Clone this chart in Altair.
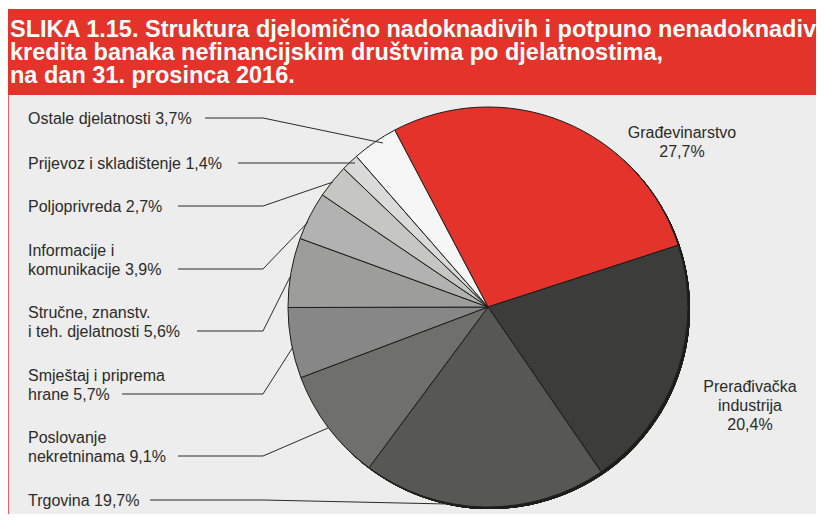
import math
import altair as alt
import pandas as pd

# ---------------- data ----------------
categories = [
    "Građevinarstvo",
    "Prerađivačka industrija",
    "Trgovina",
    "Poslovanje nekretninama",
    "Smještaj i priprema hrane",
    "Stručne, znanstv. i teh. djelatnosti",
    "Informacije i komunikacije",
    "Poljoprivreda",
    "Prijevoz i skladištenje",
    "Ostale djelatnosti",
]
values = [27.7, 20.4, 19.7, 9.1, 5.7, 5.6, 3.9, 2.7, 1.4, 3.7]
colors = ["#E4332A", "#3C3C3B", "#575756", "#6F6F6E", "#878787",
          "#9D9D9C", "#B2B2B2", "#C6C6C5", "#DADADA", "#F6F6F6"]

# label text lines (percentage appended from values)
label_lines = [
    ["Građevinarstvo"],
    ["Prerađivačka", "industrija"],
    ["Trgovina"],
    ["Poslovanje", "nekretninama"],
    ["Smještaj i priprema", "hrane"],
    ["Stručne, znanstv.", "i teh. djelatnosti"],
    ["Informacije i", "komunikacije"],
    ["Poljoprivreda"],
    ["Prijevoz i skladištenje"],
    ["Ostale djelatnosti"],
]
pct_on_own_line = [True, True, False, False, False, False, False, False, False, False]

title_lines = [
    "SLIKA 1.15. Struktura djelomično nadoknadivih i potpuno nenadoknadivih",
    "kredita banaka nefinancijskim društvima po djelatnostima,",
    "na dan 31. prosinca 2016.",
]

# ---------------- layout (page pixel coordinates) ----------------
W, H = 808, 506
OX, OY = 8, 8
CX, CY, R = 488, 307, 200
START = math.radians(-27.8)
label_anchor = [
    (682, 132, "center"), (750, 386, "center"),
    (28, 500, "left"), (28, 437, "left"), (28, 375, "left"), (28, 312, "left"),
    (28, 250, "left"), (28, 206, "left"), (28, 163, "left"), (28, 118, "left"),
]
LINE_GAP = 19
leaders = {
    9: [(205, 118), (263, 118), (383, 143)],
    8: [(238, 163), (355, 163)],
    7: [(178, 206), (263, 206), (333, 182)],
    6: [(178, 269), (263, 269), (308, 222)],
    5: [(197, 331), (263, 331), (290, 277)],
    4: [(122, 394), (263, 394), (293, 347)],
    3: [(178, 456), (263, 456), (328, 428)],
    2: [(150, 500), (263, 500), (447, 504)],
}
title_baselines = [37, 59.5, 83]

FONT = "Liberation Sans"
TXT = "#2B2B2A"

xs = alt.Scale(domain=[OX, OX + W], range=[0, W])
ys = alt.Scale(domain=[OY, OY + H], range=[0, H])


def fmt(v):
    return f"{v:.1f}".replace(".", ",") + "%"


# ---------------- build tables ----------------
pie_df = pd.DataFrame({"cat": categories, "value": values, "idx": list(range(len(values)))})

text_rows = []
for i, lines in enumerate(label_lines):
    x0, y0, al = label_anchor[i]
    ls = list(lines)
    if pct_on_own_line[i]:
        ls = ls + [fmt(values[i])]
    else:
        ls[-1] = ls[-1] + " " + fmt(values[i])
    for k, t in enumerate(ls):
        text_rows.append({"x": x0, "y": y0 + k * LINE_GAP + 5.7, "t": t, "al": al})
text_df = pd.DataFrame(text_rows)

lead_rows = []
for i, pts in leaders.items():
    for k, (px, py) in enumerate(pts):
        lead_rows.append({"id": i, "pt": k, "x": px, "y": py})
lead_df = pd.DataFrame(lead_rows)

title_df = pd.DataFrame({"t": title_lines, "x": [10] * 3, "y": title_baselines})

bg_df = pd.DataFrame([{"x": 6, "x2": 830, "y": 95, "y2": 530}])
ban_df = pd.DataFrame([{"x": 5, "x2": 830, "y": 9, "y2": 95}])
border_df = pd.DataFrame([{"x": 8.5, "y": 95, "y2": 530}])


def X(f="x"):
    return alt.X(f"{f}:Q", scale=xs, axis=None)


def Y(f="y"):
    return alt.Y(f"{f}:Q", scale=ys, axis=None)


bg = alt.Chart(bg_df).mark_rect(color="#EDEDED").encode(x=X(), x2="x2:Q", y=Y(), y2="y2:Q")
banner = alt.Chart(ban_df).mark_rect(color="#E4332A").encode(x=X(), x2="x2:Q", y=Y(), y2="y2:Q")
border = alt.Chart(border_df).mark_rule(color="#E8615B", strokeWidth=1).encode(x=X(), y=Y(), y2="y2:Q")

shadow = alt.Chart(pie_df).mark_arc(radius=R, theta=0, theta2=2 * math.pi, color="#1D1D1B").encode(
    x=alt.value(CX - OX + 2), y=alt.value(CY - OY + 2)
)

pie = alt.Chart(pie_df).mark_arc(radius=R, stroke="#1D1D1B", strokeWidth=1).encode(
    theta=alt.Theta("value:Q", stack=True, scale=alt.Scale(range=[START, START + 2 * math.pi])),
    color=alt.Color("cat:N", scale=alt.Scale(domain=categories, range=colors), legend=None),
    order=alt.Order("idx:Q"),
    x=alt.value(CX - OX), y=alt.value(CY - OY),
)

lines = alt.Chart(lead_df).mark_line(color=TXT, strokeWidth=1).encode(
    x=X(), y=Y(), detail="id:N", order="pt:Q"
)

left_txt = alt.Chart(text_df[text_df.al == "left"]).mark_text(
    align="left", baseline="alphabetic", font=FONT, fontSize=16, color=TXT
).encode(x=X(), y=Y(), text="t:N")

right_txt = alt.Chart(text_df[text_df.al == "center"]).mark_text(
    align="center", baseline="alphabetic", font=FONT, fontSize=16, color=TXT
).encode(x=X(), y=Y(), text="t:N")

title = alt.Chart(title_df).mark_text(
    align="left", baseline="alphabetic", font=FONT, fontSize=23.5, fontWeight="bold", color="white"
).encode(x=X(), y=Y(), text="t:N")

chart = alt.layer(bg, banner, border, shadow, pie, lines, left_txt, right_txt, title).properties(
    width=W, height=H, autosize=alt.AutoSizeParams(type="none"), padding=0, background="white"
).configure_view(stroke="transparent")

chart.save("out.html", embed_options={"renderer": "svg", "actions": False})
